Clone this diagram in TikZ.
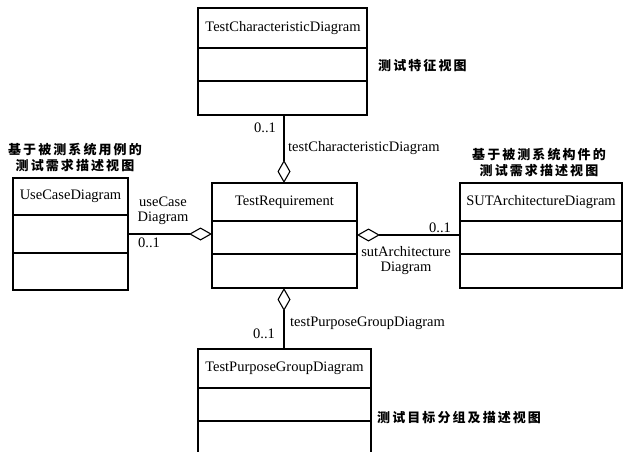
\documentclass[tikz,border=0pt]{standalone}
\usepackage{fontspec}
\setmainfont{Liberation Serif}
\newfontfamily\cjk[LetterSpace=16]{Noto Sans CJK SC}
\usetikzlibrary{arrows.meta}
\begin{document}
\begin{tikzpicture}[x=1pt,y=-1pt,
  box/.style={draw, line width=1.1pt, inner sep=0pt, outer sep=0pt, rectangle},
  openbox/.style={inner sep=0pt, outer sep=0pt, rectangle},
  sep/.style={line width=1.1pt},
  cname/.style={font=\fontsize{14.5}{16}\selectfont, inner sep=0pt},
  lbl/.style={font=\fontsize{14.5}{16}\selectfont, inner sep=0pt},
  cn/.style={font=\cjk\bfseries\fontsize{13}{16}\selectfont, inner sep=0pt},
  agg/.style={line width=1.1pt, {Diamond[open, length=23pt, width=13pt, line width=1.1pt]}-},
]
\useasboundingbox (0,0) rectangle (627,452);

% class boxes
\node[box, minimum width=169pt, minimum height=107pt] (tcd) at (282.5,61.5) {};
\node[box, minimum width=115pt, minimum height=112pt] (uc) at (70.5,234) {};
\node[box, minimum width=145pt, minimum height=105pt] (tr) at (284.5,235.5) {};
\node[box, minimum width=162pt, minimum height=105pt] (sut) at (541,235.5) {};
\node[openbox, minimum width=173pt, minimum height=103pt] (tpg) at (284.5,400.5) {};
\draw[sep] (tpg.south west) -- (tpg.north west) -- (tpg.north east) -- (tpg.south east);

% compartments
\draw[sep] (tcd.west |- 0,48) -- (tcd.east |- 0,48);
\draw[sep] (tcd.west |- 0,81) -- (tcd.east |- 0,81);
\draw[sep] (uc.west |- 0,215) -- (uc.east |- 0,215);
\draw[sep] (uc.west |- 0,253) -- (uc.east |- 0,253);
\draw[sep] (tr.west |- 0,221) -- (tr.east |- 0,221);
\draw[sep] (tr.west |- 0,254) -- (tr.east |- 0,254);
\draw[sep] (sut.west |- 0,221) -- (sut.east |- 0,221);
\draw[sep] (sut.west |- 0,254) -- (sut.east |- 0,254);
\draw[sep] (tpg.west |- 0,388) -- (tpg.east |- 0,388);
\draw[sep] (tpg.west |- 0,421) -- (tpg.east |- 0,421);

% class names
\node[cname] (tcdn) at (283,28) {TestCharacteristicDiagram};
\node[cname] (ucn) at (70.5,196) {UseCaseDiagram};
\node[cname] (trn) at (284.5,202) {TestRequirement};
\node[cname] (sutn) at (541,202) {SUTArchitectureDiagram};
\node[cname] (tpgn) at (284.5,368) {TestPurposeGroupDiagram};

% connectors (diamond at TestRequirement)
\draw[agg] (tr.north -| 284,0) -- (tcd.south -| 284,0);
\draw[agg] (tr.west |- 0,234) -- (uc.east |- 0,234);
\draw[agg] (tr.east |- 0,235) -- (sut.west |- 0,235);
\draw[agg] (tr.south -| 284,0) -- (tpg.north -| 284,0);

% connector labels
\node[lbl] (m1) at (265,128) {0..1};
\node[lbl, anchor=west] (r1) at (288,148) {testCharacteristicDiagram};
\node[lbl, align=center] (r2) at (163,211) {useCase\\[-1pt]Diagram};
\node[lbl] (m2) at (149,243) {0..1};
\node[lbl] (m3) at (440,228) {0..1};
\node[lbl, align=center] (r3) at (406,261) {sutArchitecture\\[-1pt]Diagram};
\node[lbl, anchor=west] (r4) at (290,323) {testPurposeGroupDiagram};
\node[lbl] (m4) at (264,334) {0..1};

% Chinese notes
\node[cn, anchor=west] (n1) at (378,66) {测试特征视图};
\node[cn, align=center] (n2) at (75,157) {基于被测系统用例的\\测试需求描述视图};
\node[cn, align=center] (n3) at (539,162) {基于被测系统构件的\\测试需求描述视图};
\node[cn, anchor=west] (n4) at (377,418) {测试目标分组及描述视图};
\end{tikzpicture}
\end{document}
